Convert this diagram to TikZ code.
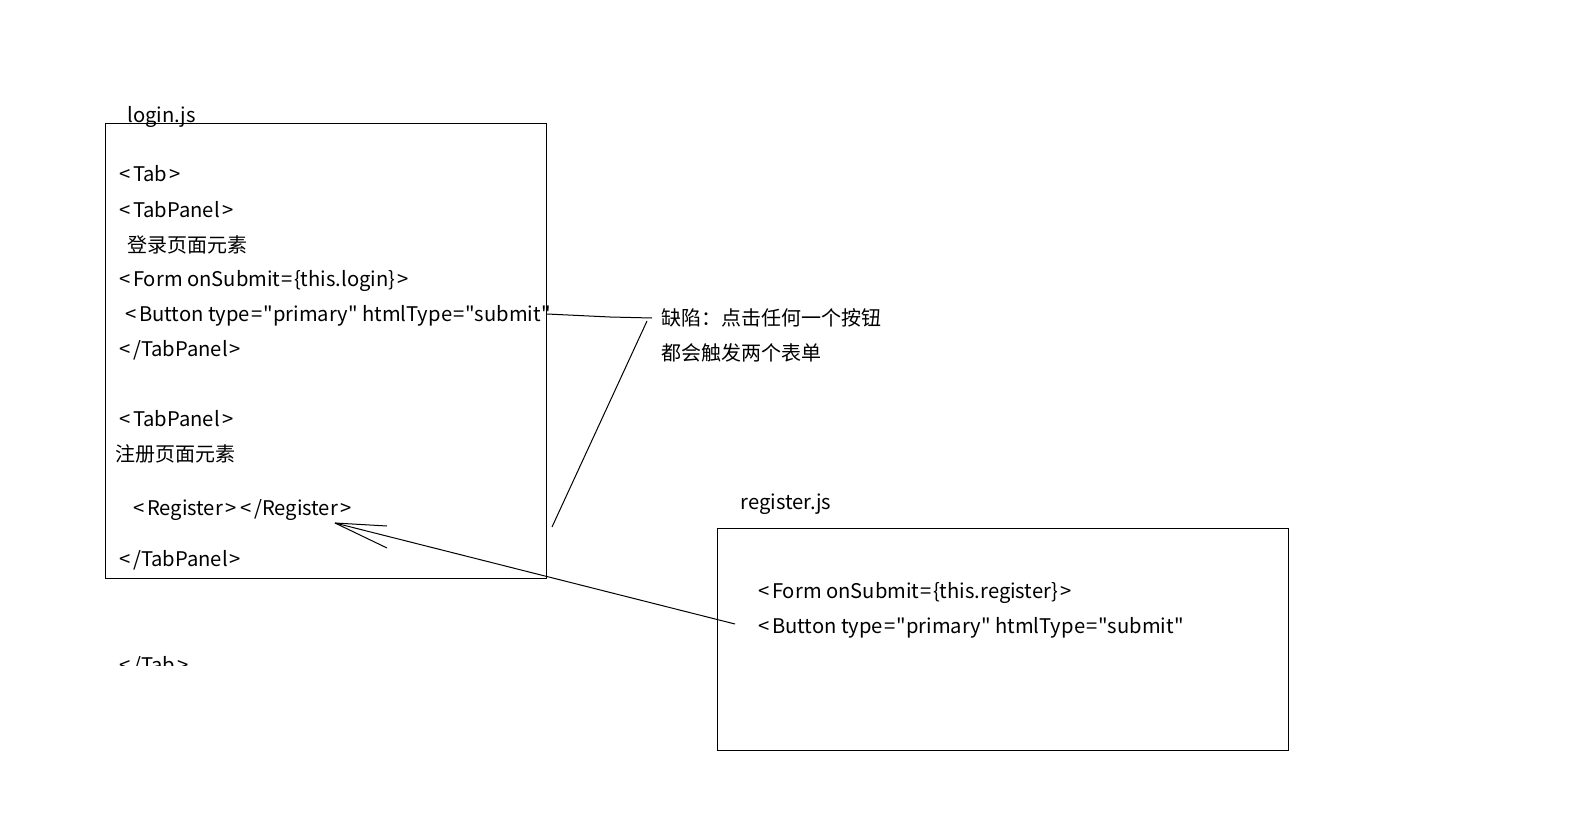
\documentclass[tikz,border=0pt]{standalone}
\usepackage{fontspec}
\setmainfont{Noto Sans CJK SC}[Ligatures=TeXOff]
% angle brackets and equals signs set with a little air around them
\newcommand\lt{\kern2.2pt<\kern2.2pt}
\newcommand\gt{\kern2.2pt>\kern2.2pt}
\newcommand\eq{\kern1.2pt=\kern1.2pt}
\begin{document}
\begin{tikzpicture}[x=1pt,y=-1pt,line width=1pt,
  code/.style={anchor=west,inner sep=0pt,font=\fontsize{20.2}{23}\selectfont},
  cjk/.style={anchor=west,inner sep=0pt,font=\fontsize{20}{22}\selectfont},
  filebox/.style={draw,line width=1pt}]
\useasboundingbox[fill=white] (0,0) rectangle (1586,818);

% login.js file
\draw[filebox] (105,124) rectangle (546,578);
\node[code,anchor=south west] (loginlbl) at (127,128) {login.js};
\node[code] (tab)   at (117,174) {\lt Tab\gt};
\node[code] (tp1)   at (117,210) {\lt TabPanel\gt};
\node[cjk]  (login) at (127,245) {登录页面元素};
\node[code] (form1) at (117,281) {\lt Form onSubmit\eq\{this.login\}\gt};
\node[code] (btn1)  at (123,316) {\lt Button type\eq"primary" htmlType\eq"submit"};
\node[code] (tp1e)  at (117,350) {\lt/TabPanel\gt};
\node[code] (tp2)   at (117,419) {\lt TabPanel\gt};
\node[cjk]  (reg)   at (115,454) {注册页面元素};
\node[code] (regc)  at (131,510) {\lt Register\gt\lt/Register\gt};
\node[code] (tp2e)  at (117,560) {\lt/TabPanel\gt};
\begin{scope}
  \clip (100,640) rectangle (300,665);
  \node[code] (tabe) at (117,666) {\lt/Tab\gt};
\end{scope}

% defect note
\node[cjk] (note1) at (661,318) {缺陷：点击任何一个按钮};
\node[cjk] (note2) at (661,353) {都会触发两个表单};
\coordinate (n1) at (652,318);
\coordinate (n2) at (647,321);
\coordinate (b1) at (547,314);
\coordinate (b2) at (552,527);
\draw (b1) -- (610,317) -- (n1);
\draw (n2) -- (b2);

% register.js file
\draw[filebox] (717,528) rectangle (1288,750);
\node[code] (reglbl) at (740,504) {register.js};
\node[code] (form2) at (756,593) {\lt Form onSubmit\eq\{this.register\}\gt};
\node[code] (btn2)  at (756,628) {\lt Button type\eq"primary" htmlType\eq"submit"};

% arrow back to the Register tag
\coordinate (tip) at (335,523);
\coordinate (from) at (735,624);
\draw (from) -- (tip);
\draw (tip) -- (387,526);
\draw (tip) -- (387,548);
\end{tikzpicture}
\end{document}
